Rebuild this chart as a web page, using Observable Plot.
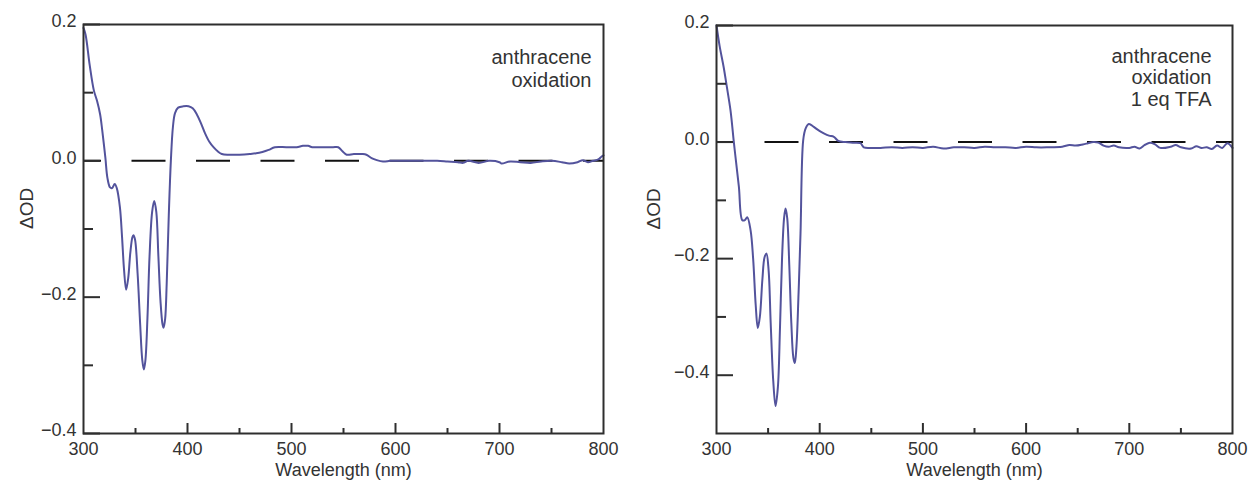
<!DOCTYPE html>
<html>
<head>
<meta charset="utf-8">
<script src="https://cdn.jsdelivr.net/npm/d3@7"></script>
<script src="https://cdn.jsdelivr.net/npm/@observablehq/plot@0.6"></script>
<style>
  html, body { margin: 0; padding: 0; background: #fff; }
  #wrap { display: flex; flex-direction: row; width: 1253px; height: 486px; }
  #wrap svg { display: block; }
</style>
</head>
<body>
<div id="wrap"></div>
<script>
// ---------- data ----------
const leftWavelength = [300,302,306,310,313,316,318,321,323,325.5,327.5,330,332,335,337,339,341,343,345,347,348,349.5,352,354.5,356.5,358,359.5,361.5,363.5,366,368,370,372,374,376,377,378.5,380,382,384,386,388,391,396,401,405,409,413,417,421,425,429,433,440,450,460,466,472,478,484,495,505,511,516,520,530,540,545,549,553,560,568,572,577,582,588,595,600,620,640,650,660,665,670,680,690,700,702,710,720,730,740,750,760,767,775,780,785,790,795,798,800];
const leftDOD = [0.195,0.185,0.14,0.103,0.088,0.068,0.045,0.005,-0.025,-0.039,-0.04,-0.034,-0.04,-0.068,-0.11,-0.16,-0.189,-0.172,-0.135,-0.112,-0.109,-0.115,-0.165,-0.24,-0.292,-0.306,-0.293,-0.23,-0.14,-0.075,-0.059,-0.075,-0.14,-0.205,-0.24,-0.245,-0.232,-0.18,-0.08,0.0,0.05,0.07,0.078,0.08,0.08,0.077,0.068,0.055,0.04,0.028,0.02,0.014,0.01,0.009,0.009,0.01,0.011,0.013,0.016,0.02,0.02,0.02,0.022,0.022,0.02,0.02,0.02,0.02,0.014,0.009,0.01,0.01,0.009,0.004,0.001,-0.001,0,0,0,0,-0.001,-0.002,-0.003,0,-0.003,0,-0.002,-0.004,-0.001,-0.002,-0.003,-0.001,0,-0.002,-0.004,-0.002,0.001,-0.002,0,0.002,0.006,0.008];

const rightWavelength = [300,303,307,310,313.6,316.8,319,321.7,325,327.5,329.8,333,335.5,338,340,342,344.5,346.5,348.4,350.5,352.5,355,357.2,359.5,361.5,363.5,365.5,366.9,368.5,370.5,372.5,374.5,375.9,377.5,379.5,381.4,384,386.3,389.5,394.3,399,404,409,413.7,418,425,432,439.5,442.7,450,459,470,480,490,500,510,520,530,540,550,560,570,580,590,600,610,620,635,642,648,655,660,665,670,675,680,685,690,700,705,710,715,720,725,730,740,745,750,760,765,770,775,780,785,790,795,800];
const rightDOD = [0.2,0.165,0.128,0.095,0.054,0.0,-0.035,-0.077,-0.134,-0.134,-0.129,-0.151,-0.2,-0.28,-0.319,-0.3,-0.235,-0.198,-0.191,-0.22,-0.31,-0.41,-0.453,-0.42,-0.32,-0.2,-0.13,-0.114,-0.13,-0.21,-0.31,-0.37,-0.379,-0.35,-0.26,-0.157,0.003,0.023,0.031,0.026,0.02,0.015,0.011,0.009,0.002,0.0,-0.001,-0.002,-0.009,-0.01,-0.01,-0.009,-0.01,-0.009,-0.01,-0.008,-0.011,-0.009,-0.009,-0.01,-0.008,-0.009,-0.009,-0.01,-0.008,-0.009,-0.009,-0.008,-0.005,-0.006,-0.004,-0.002,0,-0.001,-0.006,-0.008,-0.006,-0.009,-0.01,-0.008,-0.011,-0.005,-0.001,-0.004,-0.01,-0.008,-0.005,-0.009,-0.011,-0.007,-0.01,-0.009,-0.012,-0.006,-0.01,-0.002,-0.01];

const xDomain = [300, 800];
const xMajorTicks = [300, 400, 500, 600, 700, 800];
const xMinorTicks = [350, 450, 550, 650, 750];
const leftYDomain = [-0.4, 0.2];
const rightYDomain = [-0.5, 0.2];
const yMajorTicks = [0.2, 0.0, -0.2, -0.4];
const yMinorTicks = [0.1, -0.1, -0.3];
const xLabel = "Wavelength (nm)";
const yLabel = "ΔOD";
const leftNote = ["anthracene", "oxidation"];
const rightNote = ["anthracene", "oxidation", "1 eq TFA"];

// ---------- styling ----------
const FONT = "'Liberation Sans', Arial, Helvetica, sans-serif";
const LINE = "#53539c";
const INK = "#2e2e2e";
const fmt = d3.format(".1f");

function panel({wl, dod, yDomain, note, mLeft, mRight, mTop, yLabelDx, noteDx, noteDy, noteLH}) {
  const width = 626, height = 486, mBottom = 53;
  const plotW = width - mLeft - mRight;
  const plotH = height - mTop - mBottom;
  const pxX = (xDomain[1] - xDomain[0]) / plotW;   // data units per pixel (x)
  const pxY = (yDomain[1] - yDomain[0]) / plotH;   // data units per pixel (y)
  const data = wl.map((w, i) => ({w, v: dod[i]}));
  const x0 = xDomain[0], y0 = yDomain[0];
  return Plot.plot({
    width, height,
    marginLeft: mLeft, marginRight: mRight, marginTop: mTop, marginBottom: mBottom,
    style: {fontFamily: FONT, fontSize: "18px", color: "#333", background: "#fff"},
    x: {domain: xDomain, ticks: xMajorTicks, tickSize: 0, tickPadding: 9, label: null},
    y: {domain: yDomain, axis: null},
    marks: [
      Plot.ruleY([0], {stroke: "#111", strokeWidth: 2, strokeDasharray: "34,30.5", strokeDashoffset: 16}),
      Plot.line(data, {x: "w", y: "v", stroke: LINE, strokeWidth: 2, curve: "catmull-rom"}),
      // inward ticks
      Plot.ruleY(yMajorTicks, {x1: x0, x2: x0 + 17 * pxX, stroke: INK, strokeWidth: 2}),
      Plot.ruleY(yMinorTicks, {x1: x0, x2: x0 + 10 * pxX, stroke: INK, strokeWidth: 2}),
      Plot.ruleX(xMajorTicks.slice(1, -1), {y1: y0, y2: y0 + 10 * pxY, stroke: INK, strokeWidth: 2}),
      Plot.ruleX(xMinorTicks, {y1: y0, y2: y0 + 5 * pxY, stroke: INK, strokeWidth: 2}),
      Plot.frame({stroke: INK, strokeWidth: 2}),
      // y tick labels
      Plot.text(yMajorTicks, {x: x0, y: d => d, text: d => fmt(d), dx: -7, dy: -3, textAnchor: "end", fontSize: 18, fill: "#333"}),
      Plot.text([xLabel], {frameAnchor: "bottom", dy: 30, lineAnchor: "top", fontSize: 18, fill: "#333"}),
      Plot.text([yLabel], {frameAnchor: "left", dx: yLabelDx, rotate: -90, fontSize: 19, fill: "#333"}),
      Plot.text([note.join("\n")], {frameAnchor: "top-right", dx: noteDx, dy: noteDy, textAnchor: "end", lineAnchor: "top", lineHeight: noteLH, fontSize: 20, fill: "#333"})
    ]
  });
}

const wrap = document.getElementById("wrap");
wrap.append(panel({wl: leftWavelength, dod: leftDOD, yDomain: leftYDomain, note: leftNote,
  mLeft: 83, mRight: 23, mTop: 24, yLabelDx: -57, noteDx: -12, noteDy: 23, noteLH: 1.15}));
wrap.append(panel({wl: rightWavelength, dod: rightDOD, yDomain: rightYDomain, note: rightNote,
  mLeft: 90, mRight: 20, mTop: 25, yLabelDx: -63, noteDx: -21, noteDy: 22, noteLH: 1.08}));
</script>
</body>
</html>
